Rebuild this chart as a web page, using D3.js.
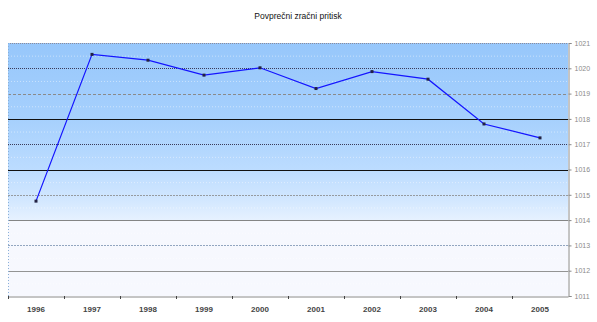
<!DOCTYPE html>
<html>
<head>
<meta charset="utf-8">
<script src="https://cdn.jsdelivr.net/npm/d3@7/dist/d3.min.js"></script>
<style>
  html, body { margin: 0; padding: 0; background: #ffffff; }
  svg { display: block; }
</style>
</head>
<body>
<svg id="chart" width="597" height="322"></svg>
<script>
// Average air pressure per year (hPa)
const years = ["1996", "1997", "1998", "1999", "2000", "2001", "2002", "2003", "2004", "2005"];
const pressure = [1014.75, 1020.55, 1020.32, 1019.73, 1020.02, 1019.2, 1019.87, 1019.57, 1017.8, 1017.25];
const yTicks = [1011, 1012, 1013, 1014, 1015, 1016, 1017, 1018, 1019, 1020, 1021];
// gridline look per level
const gridStyles = {
  1021: { stroke: "#8c8c9c", dash: "1,1", w: 1 },
  1020: { stroke: "#3a3a5a", dash: "1,1", w: 1 },
  1019: { stroke: "#8a8a8a", dash: "3,2", w: 1 },
  1018: { stroke: "#111111", dash: null, w: 1.2 },
  1017: { stroke: "#3a3a5a", dash: "1,1", w: 1.2 },
  1016: { stroke: "#111111", dash: null, w: 1.2 },
  1015: { stroke: "#888888", dash: "2,1", w: 0.8 },
  1014: { stroke: "#777777", dash: null, w: 0.9 },
  1013: { stroke: "#7890b0", dash: "2,1", w: 0.8 },
  1012: { stroke: "#888888", dash: null, w: 0.9 }
};

const svg = d3.select("#chart");
const m = { left: 8, right: 568, top: 43, bottom: 296 };

const x = d3.scaleBand().domain(years).range([m.left, m.right]);
const y = d3.scaleLinear().domain([1011, 1021]).range([m.bottom, m.top]);

// plot background gradient
const defs = svg.append("defs");
const grad = defs.append("linearGradient")
  .attr("id", "bg").attr("gradientUnits", "userSpaceOnUse")
  .attr("x1", 0).attr("y1", m.top).attr("x2", 0).attr("y2", m.bottom);
[[0, "#97c7fb"], [0.3, "#a6d0fd"], [0.5, "#bcdcff"], [0.62, "#d2e7ff"], [0.7, "#e6f1ff"], [0.7, "#f6f8fe"], [1, "#f7f8fe"]]
  .forEach(([o, c]) => grad.append("stop").attr("offset", o).attr("stop-color", c));

svg.append("rect")
  .attr("x", m.left).attr("y", m.top)
  .attr("width", m.right - m.left).attr("height", m.bottom - m.top)
  .attr("fill", "url(#bg)");

// faint half-unit lines
svg.append("g").selectAll("line")
  .data(d3.range(1011.5, 1021, 1))
  .join("line")
  .attr("x1", m.left).attr("x2", m.right)
  .attr("y1", d => y(d) + 0.5).attr("y2", d => y(d) + 0.5)
  .attr("stroke", "#ffffff").attr("stroke-opacity", 0.45)
  .attr("stroke-dasharray", "1,2");

// gridlines
svg.append("g").selectAll("line")
  .data(yTicks.filter(d => gridStyles[d]))
  .join("line")
  .attr("x1", m.left).attr("x2", m.right)
  .attr("y1", d => Math.round(y(d)) + 0.5).attr("y2", d => Math.round(y(d)) + 0.5)
  .attr("stroke", d => gridStyles[d].stroke)
  .attr("stroke-width", d => gridStyles[d].w)
  .attr("stroke-dasharray", d => gridStyles[d].dash);

// left dotted edge
svg.append("line")
  .attr("x1", m.left + 0.5).attr("x2", m.left + 0.5)
  .attr("y1", m.top).attr("y2", m.bottom)
  .attr("stroke", "#8ab0d8").attr("stroke-dasharray", "1,2");

// right value axis
const yAxis = d3.axisRight(y).tickValues(yTicks).tickSize(3).tickPadding(3).tickFormat(d3.format("d"));
const gy = svg.append("g")
  .attr("transform", `translate(${m.right + 0.5},0)`)
  .call(yAxis);
gy.select(".domain").attr("stroke", "#8a8a8a");
gy.selectAll(".tick line").attr("stroke", "#8a8a8a");
gy.selectAll("text")
  .attr("font-family", "Liberation Sans, Arial, sans-serif")
  .attr("font-size", 7).attr("fill", "#8a8a8a");

// bottom category axis
const xAxis = d3.axisBottom(x).tickSize(0).tickPadding(10);
const gx = svg.append("g")
  .attr("transform", `translate(0,${m.bottom + 0.5})`)
  .call(xAxis);
gx.select(".domain").attr("stroke", "#8a8a8a");
gx.selectAll("text")
  .attr("font-family", "Liberation Sans, Arial, sans-serif")
  .attr("font-size", 8).attr("font-weight", "bold").attr("fill", "#444444");
// tick marks at band boundaries
svg.append("g").selectAll("line")
  .data(years)
  .join("line")
  .attr("x1", d => Math.round(x(d)) + 0.5).attr("x2", d => Math.round(x(d)) + 0.5)
  .attr("y1", m.bottom).attr("y2", m.bottom + 3)
  .attr("stroke", "#444444");

// series line
const line = d3.line()
  .x((d, i) => x(years[i]) + x.bandwidth() / 2)
  .y(d => y(d));
svg.append("path")
  .datum(pressure)
  .attr("d", line)
  .attr("fill", "none")
  .attr("stroke", "#1414ff")
  .attr("stroke-width", 1.2);

svg.append("g").selectAll("rect")
  .data(pressure)
  .join("rect")
  .attr("x", (d, i) => x(years[i]) + x.bandwidth() / 2 - 1.5)
  .attr("y", d => y(d) - 1.5)
  .attr("width", 3).attr("height", 3)
  .attr("fill", "#222244");

// title
svg.append("text")
  .attr("x", 298).attr("y", 19)
  .attr("text-anchor", "middle")
  .attr("font-family", "Liberation Sans, Arial, sans-serif")
  .attr("font-size", 8.5)
  .attr("fill", "#111111")
  .text("Povprečni zračni pritisk");
</script>
</body>
</html>
